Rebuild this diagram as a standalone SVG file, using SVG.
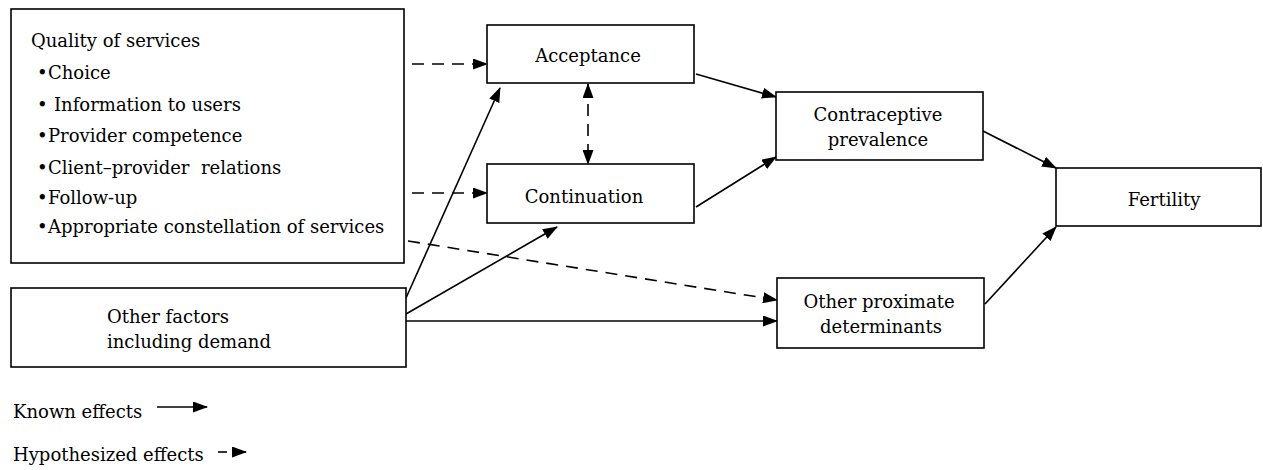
<svg xmlns="http://www.w3.org/2000/svg" width="1263" height="470" viewBox="0 0 1263 470">
<style>
.box{fill:#fff;stroke:#000;stroke-width:1.6}
.t{font-family:"DejaVu Serif","Liberation Serif",serif;font-size:18px;fill:#000}
.lg{font-family:"DejaVu Serif","Liberation Serif",serif;font-size:18px;fill:#000}
.c{stroke:#000;stroke-width:1.6;fill:none}
.d{stroke-dasharray:12 8}
</style>
<defs>
<marker id="ah" markerUnits="userSpaceOnUse" markerWidth="15" markerHeight="11" refX="14" refY="5.5" orient="auto-start-reverse">
<path d="M0,0 L15,5.5 L0,11 z" fill="#000"/>
</marker>
</defs>
<rect width="1263" height="470" fill="#fff"/>
<g id="connectors">
<line class="c d" x1="412" y1="64" x2="487" y2="64" marker-end="url(#ah)"/>
<line class="c d" x1="412" y1="193" x2="487" y2="193" marker-end="url(#ah)"/>
<line class="c d" x1="588" y1="84" x2="588" y2="164" marker-start="url(#ah)" marker-end="url(#ah)"/>
<line class="c" x1="696" y1="74" x2="776" y2="97" marker-end="url(#ah)"/>
<line class="c" x1="696" y1="207" x2="776" y2="157" marker-end="url(#ah)"/>
<line class="c" x1="406" y1="298" x2="500" y2="88" marker-end="url(#ah)"/>
<line class="c" x1="406" y1="314" x2="557" y2="227" marker-end="url(#ah)"/>
<line class="c" x1="406" y1="321" x2="777" y2="321" marker-end="url(#ah)"/>
<line class="c d" x1="408" y1="241" x2="777" y2="300" marker-end="url(#ah)"/>
<line class="c" x1="983" y1="131" x2="1056" y2="168" marker-end="url(#ah)"/>
<line class="c" x1="985" y1="304" x2="1056" y2="227" marker-end="url(#ah)"/>
</g>
<g id="quality">
<rect class="box" x="11" y="9" width="393" height="254"/>
<text class="t" x="31" y="47">Quality of services</text>
<text class="t"><tspan x="37" y="79">•</tspan><tspan x="48" y="79">Choice</tspan></text>
<text class="t"><tspan x="37" y="111">•</tspan><tspan x="54" y="111">Information to users</tspan></text>
<text class="t"><tspan x="37" y="142">•</tspan><tspan x="48" y="142">Provider competence</tspan></text>
<text class="t"><tspan x="37" y="174">•</tspan><tspan x="48" y="174">Client–provider&#160; relations</tspan></text>
<text class="t"><tspan x="37" y="204">•</tspan><tspan x="48" y="204">Follow-up</tspan></text>
<text class="t"><tspan x="37" y="233">•</tspan><tspan x="48" y="233">Appropriate constellation of services</tspan></text>
</g>
<g id="other-factors">
<rect class="box" x="11" y="288" width="395" height="79"/>
<text class="lg" x="107" y="323">Other factors</text>
<text class="lg" x="107" y="348">including demand</text>
</g>
<g id="acceptance">
<rect class="box" x="487" y="25" width="207" height="58"/>
<text class="t" x="588" y="62" text-anchor="middle">Acceptance</text>
</g>
<g id="continuation">
<rect class="box" x="487" y="164" width="207" height="59"/>
<text class="t" x="584" y="203" text-anchor="middle">Continuation</text>
</g>
<g id="contraceptive">
<rect class="box" x="776" y="92" width="207" height="68"/>
<text class="t" x="878" y="121" text-anchor="middle">Contraceptive</text>
<text class="t" x="878" y="146" text-anchor="middle">prevalence</text>
</g>
<g id="fertility">
<rect class="box" x="1056" y="168" width="205" height="58"/>
<text class="t" x="1164" y="206" text-anchor="middle">Fertility</text>
</g>
<g id="other-proximate">
<rect class="box" x="777" y="278" width="207" height="70"/>
<text class="t" x="879" y="308" text-anchor="middle">Other proximate</text>
<text class="t" x="881" y="333" text-anchor="middle">determinants</text>
</g>
<g id="legend">
<text class="lg" x="13" y="418">Known effects</text>
<line class="c" x1="157" y1="407" x2="207" y2="407" marker-end="url(#ah)"/>
<text class="lg" x="13" y="461">Hypothesized effects</text>
<line class="c" x1="218" y1="452" x2="227" y2="452"/>
<line class="c" x1="232" y1="452" x2="246" y2="452" marker-end="url(#ah)"/>
</g>
</svg>
